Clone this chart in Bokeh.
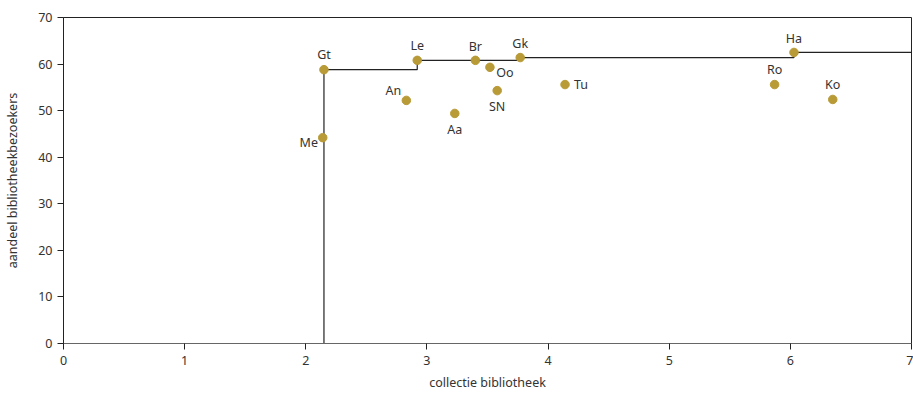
from bokeh.plotting import figure
from bokeh.models import ColumnDataSource, Range1d, FixedTicker, LabelSet
from bokeh.core.properties import value
from bokeh.embed import file_html
from bokeh.resources import INLINE

# ---- data ----
names = ["Me", "Gt", "Le", "An", "Aa", "Br", "Oo", "SN", "Gk", "Tu", "Ro", "Ha", "Ko"]
collectie = [2.14, 2.15, 2.92, 2.83, 3.23, 3.40, 3.52, 3.58, 3.77, 4.14, 5.87, 6.03, 6.35]
aandeel = [44.2, 58.8, 60.8, 52.2, 49.4, 60.8, 59.3, 54.3, 61.4, 55.6, 55.6, 62.5, 52.4]
frontier = ["Gt", "Le", "Gk", "Ha"]  # points on the step line
x_ticks = [0, 1, 2, 3, 4, 5, 6, 7]
y_ticks = [0, 10, 20, 30, 40, 50, 60, 70]

FONT = "Noto Sans"
GOLD = "#B89A36"
TXT = "#333333"

# label placement (style, not data)
place = {
    "Me": (-14, -5, "center"), "Gt": (0, 15, "center"), "Le": (0, 15, "center"),
    "An": (-13, 10, "center"), "Aa": (0, -16, "center"), "Br": (0, 14, "center"),
    "Oo": (15, -5, "center"), "SN": (0, -16, "center"), "Gk": (0, 14, "center"),
    "Tu": (9, 0, "left"), "Ro": (0, 15, "center"), "Ha": (0, 14, "center"),
    "Ko": (0, 15, "center"),
}

p = figure(width=913, height=393, output_backend="svg", toolbar_location=None,
           x_range=Range1d(0, 7), y_range=Range1d(0, 70),
           min_border_left=63, min_border_right=2, min_border_top=17, min_border_bottom=50)
p.grid.visible = False
p.outline_line_color = "#222222"
p.outline_line_width = 1
p.background_fill_color = "white"
p.border_fill_color = "white"

# step line through frontier points
idx = {n: i for i, n in enumerate(names)}
fx = [collectie[idx[n]] for n in frontier]
fy = [aandeel[idx[n]] for n in frontier]
sx = [fx[0], fx[0]]
sy = [0, fy[0]]
for i in range(1, len(fx)):
    sx += [fx[i], fx[i]]
    sy += [sy[-1], fy[i]]
sx.append(7)
sy.append(sy[-1])
p.line(sx, sy, line_color="#222222", line_width=1.2)

dx = [place[n][0] for n in names]
dy = [place[n][1] for n in names]
al = [place[n][2] for n in names]
src = ColumnDataSource(dict(x=collectie, y=aandeel, name=names, dx=dx, dy=dy, al=al))
p.scatter("x", "y", source=src, size=8.5, fill_color=GOLD, line_color=GOLD)
p.add_layout(LabelSet(x="x", y="y", text="name", source=src, x_offset="dx", y_offset="dy",
                      text_align="al", text_baseline="middle", text_font=value(FONT),
                      text_font_size="12.5px", text_color=TXT))

for ax in (p.xaxis[0], p.yaxis[0]):
    ax.major_label_text_font = FONT
    ax.major_label_text_font_size = "12.5px"
    ax.major_label_text_color = TXT
    ax.axis_label_text_font = FONT
    ax.axis_label_text_font_size = "12.5px"
    ax.axis_label_text_font_style = "normal"
    ax.axis_label_text_color = TXT
    ax.minor_tick_line_color = None
    ax.major_tick_in = 0
    ax.major_tick_out = 6
    ax.major_tick_line_color = "#222222"

p.xaxis.ticker = FixedTicker(ticks=x_ticks)
p.yaxis.ticker = FixedTicker(ticks=y_ticks)
p.xaxis.axis_label = "collectie bibliotheek"
p.yaxis.axis_label = "aandeel bibliotheekbezoekers"
p.xaxis.axis_line_color = "#666666"
p.yaxis.axis_line_color = "#222222"
p.xaxis.major_label_standoff = 6
p.yaxis.major_label_standoff = 5
p.xaxis.axis_label_standoff = 6
p.yaxis.axis_label_standoff = 14

open("out.html", "w").write(file_html(p, INLINE))
